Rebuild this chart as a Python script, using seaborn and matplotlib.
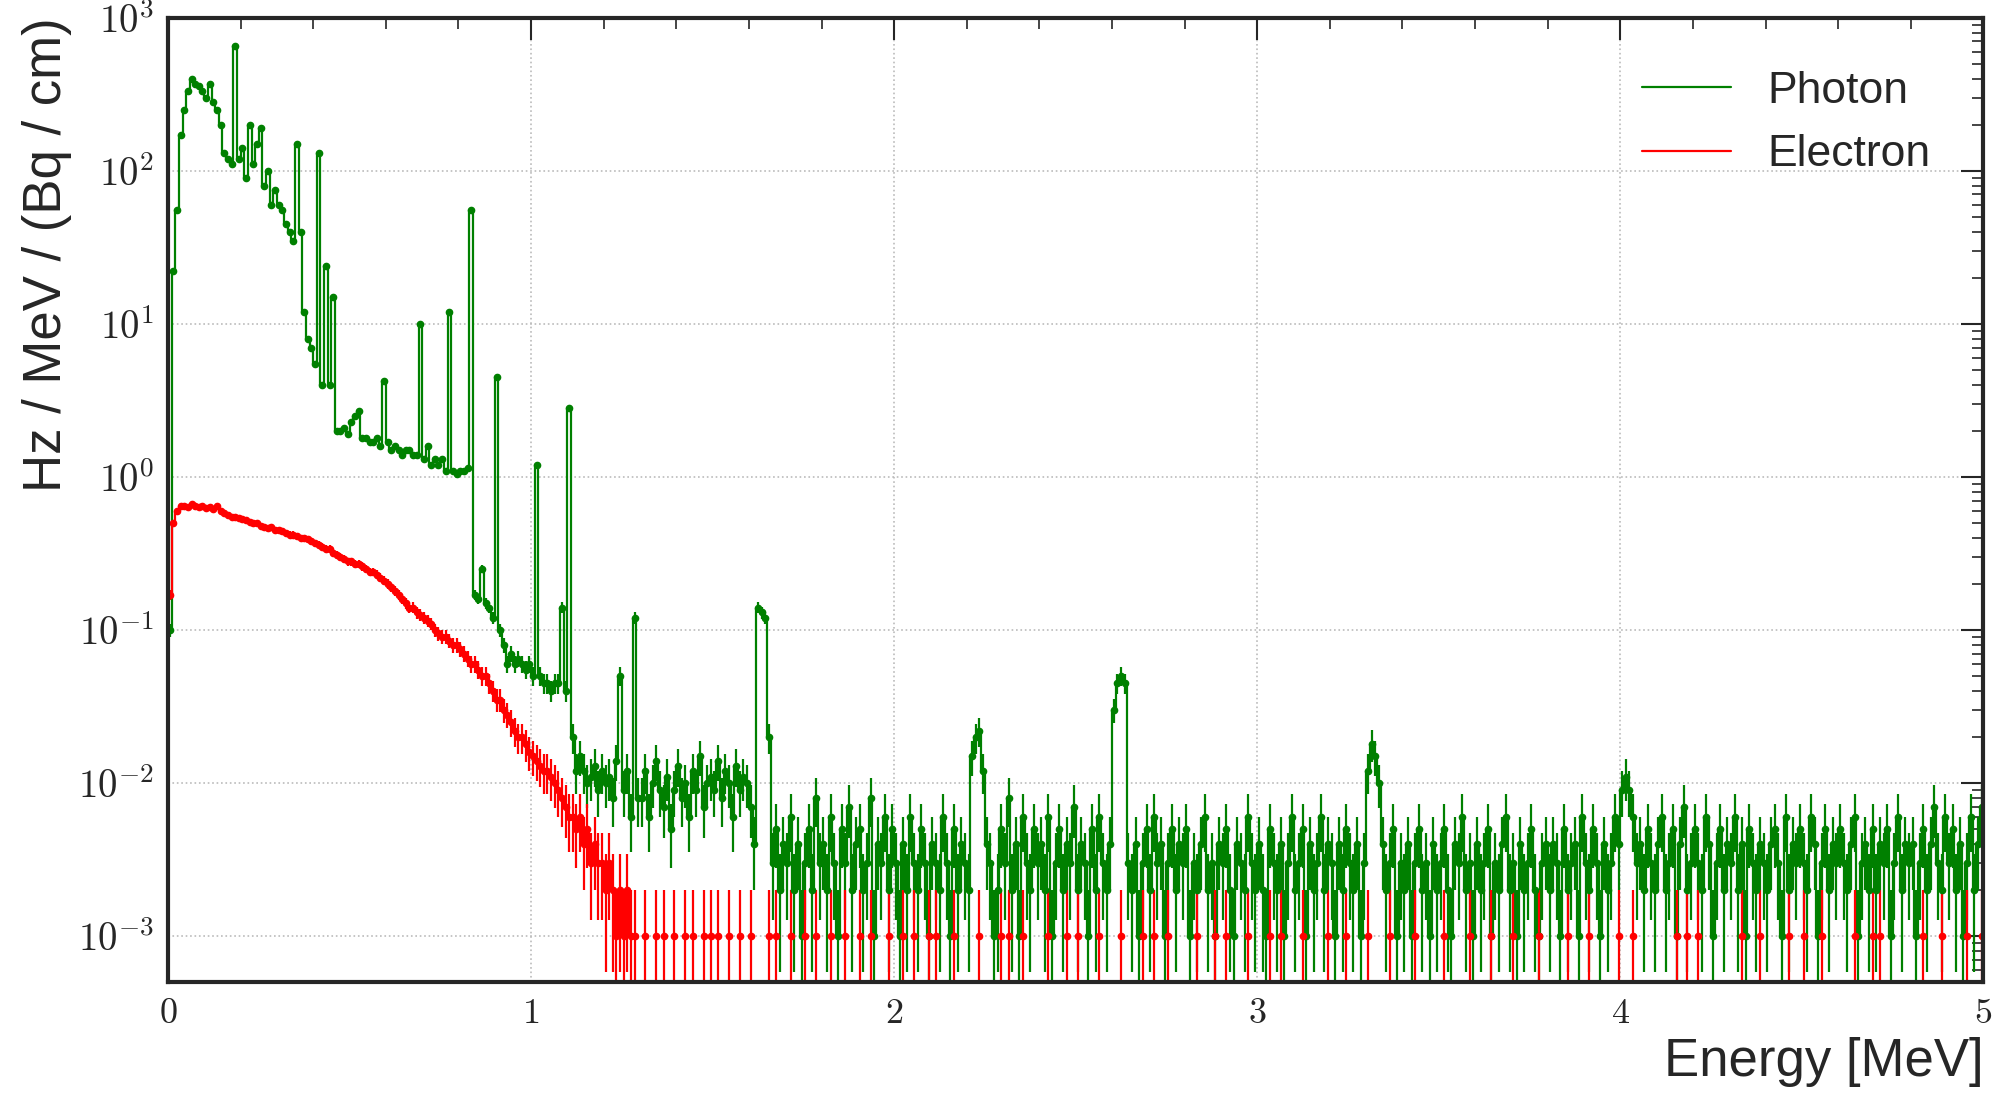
import numpy as np
import matplotlib
matplotlib.use("Agg")
import matplotlib.pyplot as plt
import seaborn as sns
import pandas as pd

bin_width = 0.01
photon_low = [
 0.1, 22, 55, 170, 250, 330, 400, 370, 360, 330,
 300, 370, 280, 250, 200, 130, 120, 110, 650, 120,
 140, 90, 200, 110, 150, 190, 80, 100, 60, 75,
 60, 55, 45, 40, 35, 150, 40, 12, 8, 7,
 5.5, 130, 4, 24, 4, 15, 2, 2, 2.1, 1.9,
 2.3, 2.5, 2.7, 1.8, 1.8, 1.7, 1.7, 1.8, 1.6, 4.2,
 1.7, 1.5, 1.6, 1.5, 1.4, 1.5, 1.5, 1.4, 1.4, 10,
 1.3, 1.6, 1.2, 1.3, 1.2, 1.3, 1.1, 12, 1.1, 1.05,
 1.1, 1.1, 1.15, 55, 0.17, 0.16, 0.25, 0.15, 0.14, 0.12,
 4.5, 0.1, 0.08, 0.06, 0.07, 0.06, 0.065, 0.06, 0.055, 0.06,
 0.05, 1.2, 0.05, 0.045, 0.045, 0.04, 0.045, 0.045, 0.14, 0.04,
 2.8, 0.02, 0.012, 0.015, 0.012, 0.01, 0.011, 0.013, 0.009, 0.012,
 0.01, 0.011, 0.008, 0.014, 0.05, 0.009, 0.012, 0.006, 0.12, 0.008,
]
# tail 1.30-5.00 MeV, in units of 1e-3 Hz/MeV/(Bq/cm)
photon_tail = [
 8,12,6,10,14,9,7,11,5,9, 13,8,10,6,12,9,15,7,10,11, 9,14,8,12,10,6,13,9,11,10,
 7,4,140,130,120,20,3,5,2,4, 3,6,2,4,1,3,5,2,8,3, 4,2,6,3,1,5,3,7,2,4,
 5,2,3,8,1,4,3,6,2,5, 3,1,4,2,6,3,2,5,3,1, 4,3,2,6,3,1,5,2,4,3,
 2,15,20,22,12,4,3,1,2,5, 3,8,2,4,1,6,3,2,5,3, 4,2,6,1,3,5,2,4,3,7,
 2,4,3,1,5,2,6,3,2,4, 30,45,50,45,3,2,4,1,3,5, 2,6,3,4,1,3,5,2,4,3,
 5,1,3,2,4,6,2,3,1,4, 3,5,2,1,4,3,2,6,3,2, 4,2,1,5,3,2,4,1,3,6,
 2,3,5,1,4,2,3,6,2,4, 3,1,4,2,5,3,2,4,1,3, 12,18,15,10,4,2,3,5,1,3,
 2,4,1,3,5,2,3,1,4,2, 3,5,2,1,4,3,6,2,3,1, 4,2,3,5,1,3,2,4,6,2,
 3,1,4,2,3,5,2,1,3,4, 2,4,3,1,5,2,3,4,1,6, 3,2,5,3,1,4,2,3,6,4,
 9,11,9,6,3,4,2,5,3,2, 4,6,2,3,5,1,4,7,2,3, 5,3,2,6,4,1,3,5,2,4,
 3,6,2,4,1,5,3,2,4,3, 2,4,5,3,1,6,2,4,3,5, 3,2,6,4,1,3,5,2,4,3,
 5,3,2,4,6,1,3,4,2,5, 2,4,3,5,1,3,6,2,4,3, 4,1,3,5,2,4,7,3,2,6,
 3,5,2,4,1,3,6,2,4,7,
]
electron_low = [
 0.17,0.5,0.6,0.65,0.65,0.64,0.66,0.65,0.64,0.65,0.63,0.64,0.62,0.65,0.6,0.58,0.56,0.55,0.55,0.54,
 0.53,0.52,0.51,0.5,0.5,0.48,0.47,0.46,0.47,0.45,0.45,0.44,0.43,0.42,0.42,0.41,0.4,0.4,0.39,0.38,
 0.37,0.36,0.35,0.34,0.34,0.32,0.31,0.3,0.29,0.28,0.28,0.27,0.27,0.26,0.25,0.24,0.24,0.23,0.22,0.21,
 0.2,0.19,0.18,0.17,0.16,0.15,0.14,0.14,0.13,0.125,0.12,0.115,0.11,0.1,0.095,0.09,0.09,0.085,0.08,0.08,
 0.075,0.07,0.065,0.06,0.06,0.055,0.05,0.05,0.045,0.04,0.035,0.035,0.03,0.028,0.025,0.022,0.02,0.02,0.018,0.016,
 0.015,0.014,0.013,0.012,0.012,0.011,0.01,0.009,0.008,0.007,0.006,0.006,0.005,0.006,0.004,0.005,0.003,0.004,0.003,0.003,
 0.002,0.003,0.002,0.001,0.002,0.001,0.002,0.001,0.001,0.0,
]
electron_tail = [
 0,1,0,0,1,0,1,0,0,1, 0,0,1,0,1,0,0,1,0,1, 0,1,0,0,1,0,0,1,0,0,
 1,0,0,0,0,1,0,1,0,0, 0,1,0,0,0,1,0,0,1,0, 0,0,1,0,0,0,1,0,0,0,
 1,0,0,1,0,0,0,0,1,0, 0,0,1,0,0,1,0,0,0,1, 0,1,0,0,0,0,1,0,0,0,
 0,0,0,1,0,0,0,0,0,1, 0,1,0,0,0,1,0,0,0,0, 0,0,1,0,0,0,0,1,0,0,
 1,0,0,0,0,0,1,0,0,0, 0,0,1,0,0,0,0,0,1,0, 0,1,0,0,0,1,0,0,0,0,
 0,0,0,1,0,0,0,0,1,0, 0,1,0,0,0,0,0,1,0,0, 0,0,0,1,0,0,1,0,0,0,
 0,0,1,0,0,0,0,0,0,1, 0,0,0,0,1,0,0,0,0,0, 1,0,0,0,0,0,1,0,0,0,
 0,0,0,1,0,0,0,0,0,0, 0,1,0,0,0,0,0,0,1,0, 0,0,0,0,1,0,0,0,0,0,
 1,0,0,0,0,0,0,1,0,0, 0,0,0,0,0,1,0,0,0,0, 0,1,0,0,0,0,0,0,0,1,
 0,0,0,1,0,0,0,0,0,0, 0,0,0,0,0,1,0,0,1,0, 0,1,0,0,0,0,0,0,0,0,
 0,0,0,1,0,0,0,0,1,0, 0,0,0,0,0,0,1,0,0,0, 1,0,0,0,0,1,0,0,0,0,
 0,0,0,0,1,0,0,0,0,1, 0,1,0,0,0,0,0,0,0,0, 0,0,0,1,0,0,0,0,1,0,
 0,0,0,0,0,1,0,0,0,1,
]

unit = 1e-3
photon = np.array(photon_low + [c * unit for c in photon_tail])
electron = np.array(electron_low + [c * unit for c in electron_tail])
centers = (np.arange(len(photon)) + 0.5) * bin_width

sns.set_style("white")
plt.rcParams['mathtext.fontset'] = 'cm'
plt.rcParams['font.family'] = ['Liberation Sans', 'DejaVu Sans']

fig = plt.figure(figsize=(20, 11.06), dpi=100)
ax = fig.add_axes([0.084, 0.112, 0.9077, 0.872])

for vals, col, lab in [(photon, 'green', 'Photon'), (electron, 'red', 'Electron')]:
    v = np.where(vals > 0, vals, np.nan)
    err = np.sqrt(v * unit)
    err_lo = np.minimum(err, v * 0.999)
    df = pd.DataFrame({'x': centers, 'y': v})
    ax.plot(df['x'], df['y'], color=col, drawstyle='steps-mid', lw=1.6, label=lab)
    ax.errorbar(centers, v, yerr=[err_lo, err], fmt='o', ms=4.5, color=col, elinewidth=1.6, capsize=0)

ax.set_yscale('log')
ax.set_xlim(0, 5)
ax.set_ylim(5e-4, 1e3)
ax.set_xticks([0, 1, 2, 3, 4, 5])
ax.set_xticklabels([f'${i}$' for i in range(6)])
ax.xaxis.set_minor_locator(matplotlib.ticker.MultipleLocator(0.2))
ax.yaxis.set_major_locator(matplotlib.ticker.FixedLocator([1e-3, 1e-2, 1e-1, 1, 10, 100, 1000]))
ax.yaxis.set_major_formatter(matplotlib.ticker.FuncFormatter(lambda y, p: f'$10^{{{int(round(np.log10(y)))}}}$'))
ax.yaxis.set_minor_locator(matplotlib.ticker.LogLocator(base=10, subs=np.arange(2, 10), numticks=20))
ax.yaxis.set_minor_formatter(matplotlib.ticker.NullFormatter())
ax.tick_params(which='both', direction='in', top=True, right=True, pad=10)
ax.tick_params(axis='x', labelsize=26)
ax.tick_params(axis='y', labelsize=28)
ax.tick_params(which='major', length=16, width=1.5)
ax.tick_params(which='minor', length=8, width=1.2)
for s in ax.spines.values():
    s.set_linewidth(3)
ax.grid(True, which='major', ls=':', color='#bbbbbb', lw=1.2)
ax.set_xlabel('Energy [MeV]', fontsize=38, loc='right')
ax.set_ylabel('Hz / MeV / (Bq / cm)', fontsize=38, loc='top')
h, l = ax.get_legend_handles_labels()
ax.legend(h[:2], l[:2], loc='upper right', fontsize=32, frameon=False, handlelength=2.0, borderaxespad=0.8)
fig.savefig('out.png', dpi=100)
